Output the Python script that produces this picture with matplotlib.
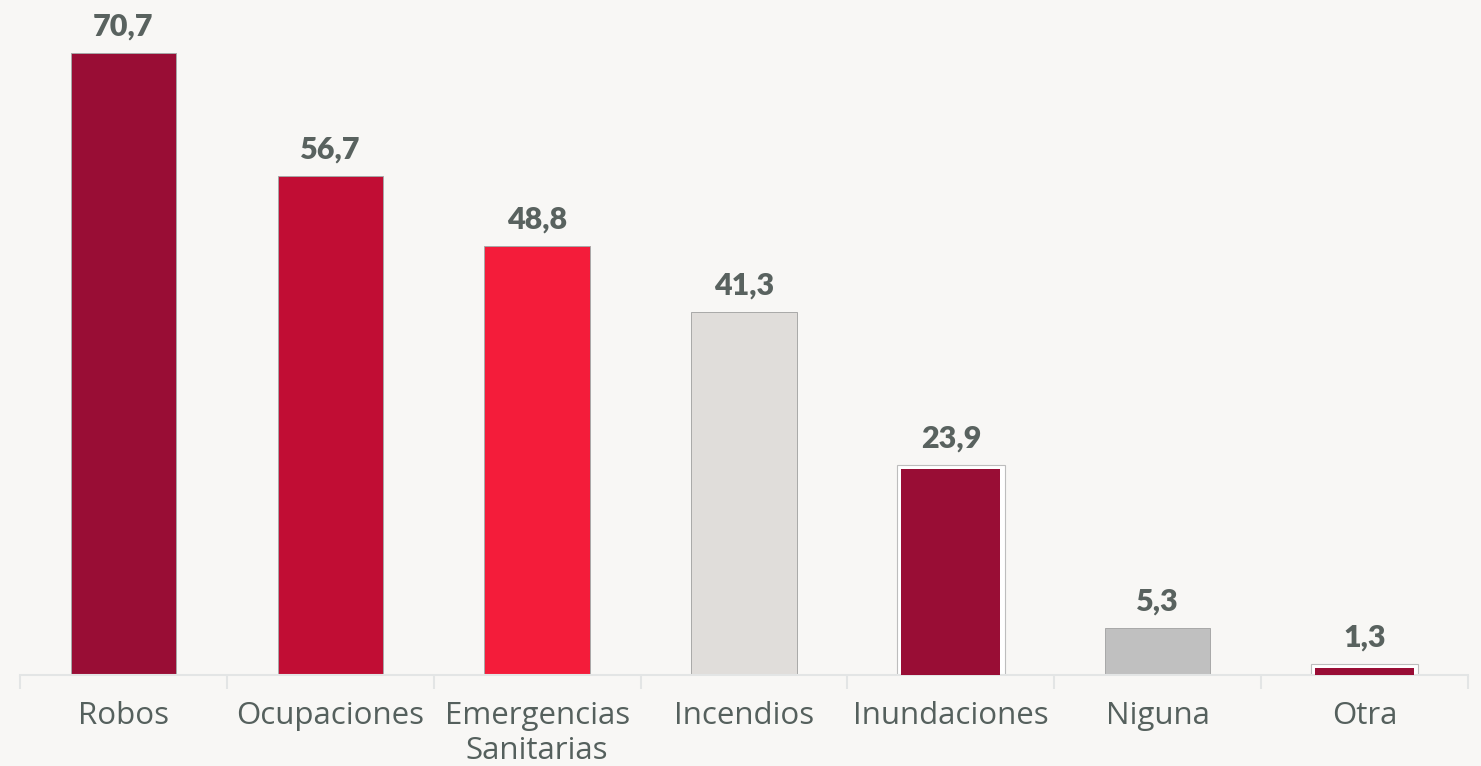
import numpy as np
import matplotlib.pyplot as plt

categories = ["Robos", "Ocupaciones", "Emergencias\nSanitarias", "Incendios",
              "Inundaciones", "Niguna", "Otra"]
values = [70.7, 56.7, 48.8, 41.3, 23.9, 5.3, 1.3]
labels = ["70,7", "56,7", "48,8", "41,3", "23,9", "5,3", "1,3"]
colors = ["#990D35", "#C10D34", "#F41C3A", "#E0DDDA", "#990D35", "#C0C0C0", "#990D35"]
white_border = [False, False, False, False, True, False, True]

bg = "#F8F7F5"
fig = plt.figure(figsize=(14.81, 7.66), dpi=100, facecolor=bg)
ax = fig.add_axes([0.0135, 0.1188, 0.9777, 0.8616], facecolor=bg)

x = np.arange(len(values))
for xi, v, c, wb in zip(x, values, colors, white_border):
    if wb:
        # outer grey outline, then white ring, then bar fill
        ax.bar(xi, v, width=0.52, color="white", edgecolor="#BDBDBD", linewidth=0.8, zorder=2)
        ax.bar(xi, v - 0.45, width=0.48, color=c, linewidth=0, zorder=3)
    else:
        ax.bar(xi, v, width=0.51, color=c, edgecolor="#A8A8A8", linewidth=0.7, zorder=2)

for xi, v, lab in zip(x, values, labels):
    ax.annotate(lab, (xi, v), xytext=(0, 9), textcoords="offset points",
                ha="center", va="bottom", fontsize=22, fontweight="heavy",
                family="Lato", color="#59625F")

ax.set_xlim(-0.5, len(values) - 0.5)
ax.set_ylim(0, 75)
ax.set_yticks([])
ax.set_xticks(x)
ax.set_xticklabels(categories, fontsize=22.5, family="Open Sans", color="#55605D",
                   linespacing=1.2)
ax.set_xticks(np.arange(len(values) + 1) - 0.5, minor=True)
ax.tick_params(axis="x", which="major", length=0, pad=19)
ax.tick_params(axis="x", which="minor", length=10, width=1.5, color="#E3E5E5")
for s in ["top", "right", "left"]:
    ax.spines[s].set_visible(False)
ax.spines["bottom"].set_color("#E3E5E5")
ax.spines["bottom"].set_linewidth(1.5)

fig.savefig("out.png", dpi=100, facecolor=bg)
